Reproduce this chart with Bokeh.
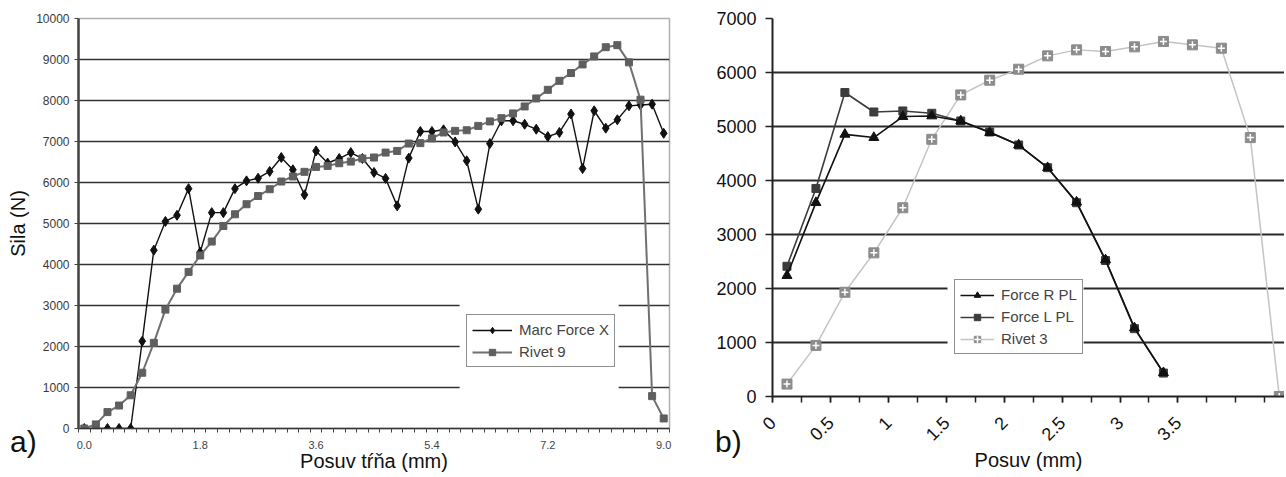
import math
from bokeh.plotting import figure
from bokeh.models import (FixedTicker, Range1d, Legend, LegendItem,
                          BoxAnnotation, Div)
from bokeh.layouts import row
from bokeh.embed import file_html
from bokeh.resources import INLINE

FONT = "Liberation Sans"

# ---------------- chart a) data ----------------
posuv_a = [0.0, 0.18, 0.36, 0.54, 0.72, 0.9, 1.08, 1.26, 1.44, 1.62,
           1.8, 1.98, 2.16, 2.34, 2.52, 2.7, 2.88, 3.06, 3.24, 3.42,
           3.6, 3.78, 3.96, 4.14, 4.32, 4.5, 4.68, 4.86, 5.04, 5.22,
           5.4, 5.58, 5.76, 5.94, 6.12, 6.3, 6.48, 6.66, 6.84, 7.02,
           7.2, 7.38, 7.56, 7.74, 7.92, 8.1, 8.28, 8.46, 8.64, 8.82, 9.0]
marc_force_x = [0, 0, 0, 0, 0, 2130, 4350, 5050, 5200, 5850,
                4300, 5265, 5265, 5850, 6040, 6105, 6270, 6610, 6310, 5700,
                6770, 6475, 6585, 6730, 6585, 6245, 6100, 5430, 6595, 7245,
                7245, 7285, 6990, 6530, 5350, 6950, 7505, 7505, 7420, 7300,
                7120, 7220, 7670, 6340, 7750, 7325, 7530, 7870, 7890, 7910, 7200]
rivet_9 = [0, 100, 400, 560, 810, 1360, 2090, 2900, 3410, 3820,
           4220, 4560, 4940, 5225, 5470, 5670, 5836, 6024, 6146, 6260,
           6380, 6405, 6470, 6510, 6585, 6610, 6730, 6770, 6950, 6960,
           7075, 7220, 7260, 7275, 7380, 7490, 7570, 7685, 7855, 8050,
           8260, 8480, 8670, 8880, 9075, 9300, 9350, 8930, 8020, 790, 245]
a_ticks = [0.0, 1.8, 3.6, 5.4, 7.2, 9.0]
a_tick_labels = ["0.0", "1.8", "3.6", "5.4", "7.2", "9.0"]
a_yticks = [0, 1000, 2000, 3000, 4000, 5000, 6000, 7000, 8000, 9000, 10000]

# ---------------- chart b) data ----------------
posuv_b_force = [0.125, 0.375, 0.625, 0.875, 1.125, 1.375, 1.625,
                 1.875, 2.125, 2.375, 2.625, 2.875, 3.125, 3.375]
force_r_pl = [2240, 3590, 4855, 4795, 5184, 5195, 5102,
              4887, 4657, 4237, 3600, 2530, 1270, 440]
force_l_pl = [2412, 3853, 5629, 5269, 5288, 5245, 5102,
              4898, 4657, 4237, 3588, 2518, 1256, 434]
posuv_b_rivet = [0.125, 0.375, 0.625, 0.875, 1.125, 1.375, 1.625, 1.875, 2.125,
                 2.375, 2.625, 2.875, 3.125, 3.375, 3.625, 3.875, 4.125, 4.375]
rivet_3 = [230, 946, 1930, 2660, 3495, 4763, 5585, 5857, 6061,
           6308, 6419, 6389, 6475, 6575, 6512, 6450, 4794, 0]
b_ticks = [0, 0.5, 1, 1.5, 2, 2.5, 3, 3.5]
b_tick_labels = ["0", "0.5", "1", "1.5", "2", "2.5", "3", "3.5"]
b_minor = [0.25 * k for k in range(18)]
b_yticks = [0, 1000, 2000, 3000, 4000, 5000, 6000, 7000]

panel_labels = ["a)", "b)"]


def no_align(p):
    try:
        p.frame_align = False
    except Exception:
        pass


# ================= figure a =================
pa = figure(width=700, height=475, x_range=Range1d(-0.09, 9.09),
            y_range=Range1d(0, 10000), output_backend="svg",
            toolbar_location=None, min_border_left=78, min_border_right=31,
            min_border_top=18, min_border_bottom=47)
no_align(pa)
pa.outline_line_color = "#b0b0b0"
pa.outline_line_width = 1.5
pa.xgrid.visible = False
pa.ygrid.grid_line_color = "#333333"
pa.ygrid.grid_line_width = 1.5

pa.yaxis.ticker = FixedTicker(ticks=a_yticks)
pa.yaxis.axis_line_color = "#444444"
pa.yaxis.axis_line_width = 2.5
pa.yaxis.major_tick_out = 4
pa.yaxis.major_tick_in = 0
pa.yaxis.minor_tick_out = 0
pa.yaxis.minor_tick_in = 0
pa.yaxis.major_tick_line_color = "#444444"
pa.yaxis.major_label_text_font = FONT
pa.yaxis.major_label_text_font_size = "12px"
pa.yaxis.major_label_text_color = "#3a3a3a"
pa.yaxis.major_label_standoff = 5
pa.yaxis.axis_label = "Sila (N)"
pa.yaxis.axis_label_text_font = FONT
pa.yaxis.axis_label_text_font_size = "20px"
pa.yaxis.axis_label_text_font_style = "normal"
pa.yaxis.axis_label_text_color = "#111111"
pa.yaxis.axis_label_standoff = 4

a_minor = [-0.09 + 0.18 * k for k in range(52)]
pa.xaxis.ticker = FixedTicker(ticks=a_ticks, minor_ticks=a_minor)
pa.xaxis.major_label_overrides = dict(zip(a_ticks, a_tick_labels))
pa.xaxis.axis_line_color = "#333333"
pa.xaxis.axis_line_width = 1.5
pa.xaxis.major_tick_out = 0
pa.xaxis.major_tick_in = 0
pa.xaxis.minor_tick_out = 4
pa.xaxis.minor_tick_in = 0
pa.xaxis.minor_tick_line_color = "#444444"
pa.xaxis.major_label_text_font = FONT
pa.xaxis.major_label_text_font_size = "11px"
pa.xaxis.major_label_text_color = "#444444"
pa.xaxis.major_label_text_line_height = 0.9
pa.xaxis.major_label_standoff = 8
pa.xaxis.axis_label = "Posuv tŕňa (mm)"
pa.xaxis.axis_label_text_font = FONT
pa.xaxis.axis_label_text_font_size = "20px"
pa.xaxis.axis_label_text_font_style = "normal"
pa.xaxis.axis_label_text_color = "#111111"
pa.xaxis.axis_label_text_line_height = 0.9
pa.xaxis.axis_label_standoff = -2

la1 = pa.line(posuv_a, marc_force_x, line_color="#111111", line_width=1.4)
ma1 = pa.scatter(posuv_a, marc_force_x, marker="diamond", size=10,
                 fill_color="#111111", line_color="#111111")
la2 = pa.line(posuv_a, rivet_9, line_color="#707070", line_width=2)
ma2 = pa.scatter(posuv_a, rivet_9, marker="square", size=7,
                 fill_color="#5f5f5f", line_color="#5f5f5f")

pa.add_layout(BoxAnnotation(left=5.83, right=8.30, bottom=757, top=3250,
                            fill_color="white", fill_alpha=1.0, line_alpha=0))
leg_a = Legend(items=[LegendItem(label="Marc Force X", renderers=[la1, ma1]),
                      LegendItem(label="Rivet 9", renderers=[la2, ma2])],
               location=(388, 61), margin=0, padding=5, spacing=3,
               label_height=19, glyph_height=16, glyph_width=40, label_standoff=7,
               label_text_font=FONT, label_text_font_size="15px",
               border_line_color="#222222", border_line_width=1.5,
               background_fill_color="white", background_fill_alpha=1.0)
pa.add_layout(leg_a)

# ================= figure b =================
pb = figure(width=584, height=477, x_range=Range1d(0, 4.42),
            y_range=Range1d(0, 7000), output_backend="svg",
            toolbar_location=None, min_border_left=72, min_border_right=0,
            min_border_top=18, min_border_bottom=81)
no_align(pb)
pb.outline_line_color = None
pb.xgrid.visible = False
pb.ygrid.grid_line_color = "#2a2a2a"
pb.ygrid.grid_line_width = 2

pb.yaxis.ticker = FixedTicker(ticks=b_yticks)
pb.yaxis.axis_line_color = "#222222"
pb.yaxis.axis_line_width = 2
pb.yaxis.major_tick_out = 7
pb.yaxis.major_tick_in = 0
pb.yaxis.minor_tick_out = 0
pb.yaxis.minor_tick_in = 0
pb.yaxis.major_tick_line_width = 1.5
pb.yaxis.major_tick_line_color = "#222222"
pb.yaxis.major_label_text_font = FONT
pb.yaxis.major_label_text_font_size = "18px"
pb.yaxis.major_label_text_color = "#111111"
pb.yaxis.major_label_standoff = 9

pb.xaxis.ticker = FixedTicker(ticks=b_ticks, minor_ticks=b_minor)
pb.xaxis.major_label_overrides = dict(zip(b_ticks, b_tick_labels))
pb.xaxis.axis_line_color = "#222222"
pb.xaxis.axis_line_width = 2
pb.xaxis.major_tick_out = 6
pb.xaxis.major_tick_in = 0
pb.xaxis.minor_tick_out = 6
pb.xaxis.minor_tick_in = 0
pb.xaxis.major_tick_line_width = 1.5
pb.xaxis.minor_tick_line_width = 1.5
pb.xaxis.major_tick_line_color = "#222222"
pb.xaxis.minor_tick_line_color = "#222222"
pb.xaxis.major_label_orientation = math.pi / 4
pb.xaxis.major_label_text_font = FONT
pb.xaxis.major_label_text_font_size = "18px"
pb.xaxis.major_label_text_color = "#111111"
pb.xaxis.major_label_text_line_height = 0.9
pb.xaxis.major_label_standoff = 17
pb.xaxis.axis_label = "Posuv (mm)"
pb.xaxis.axis_label_text_font = FONT
pb.xaxis.axis_label_text_font_size = "20px"
pb.xaxis.axis_label_text_font_style = "normal"
pb.xaxis.axis_label_text_color = "#111111"
pb.xaxis.axis_label_text_line_height = 0.9
pb.xaxis.axis_label_standoff = 0

lr3 = pb.line(posuv_b_rivet, rivet_3, line_color="#c4c4c4", line_width=1.5)
mr3a = pb.scatter(posuv_b_rivet, rivet_3, marker="square", size=10,
                  fill_color="#8c8c8c", line_color="#8c8c8c")
mr3b = pb.scatter(posuv_b_rivet, rivet_3, marker="cross", size=7,
                  line_color="white", line_width=1.5)
llp = pb.line(posuv_b_force, force_l_pl, line_color="#3c3c3c", line_width=1.6)
mlp = pb.scatter(posuv_b_force, force_l_pl, marker="square", size=8,
                 fill_color="#3c3c3c", line_color="#3c3c3c")
lrp = pb.line(posuv_b_force, force_r_pl, line_color="#111111", line_width=1.6)
mrp = pb.scatter(posuv_b_force, force_r_pl, marker="triangle", size=10,
                 fill_color="#111111", line_color="#111111")

pb.add_layout(BoxAnnotation(left=1.511, right=2.686, bottom=800, top=2200,
                            fill_color="white", fill_alpha=1.0, line_alpha=0))
leg_b = Legend(items=[LegendItem(label="Force R PL", renderers=[lrp, mrp]),
                      LegendItem(label="Force L PL", renderers=[llp, mlp]),
                      LegendItem(label="Rivet 3", renderers=[lr3, mr3a, mr3b])],
               location=(182, 42), margin=0, padding=5, spacing=3,
               label_height=19, glyph_height=16, glyph_width=34, label_standoff=7,
               label_text_font=FONT, label_text_font_size="15px",
               border_line_color="#222222", border_line_width=1.5,
               background_fill_color="white", background_fill_alpha=1.0)
pb.add_layout(leg_b)


def panel_div(text, left):
    return Div(text=text, width=44, height=36,
               styles={"position": "absolute", "left": f"{left}px", "top": "425px",
                       "font-family": FONT, "font-size": "30px",
                       "line-height": "34px", "color": "#111111",
                       "margin": "0", "white-space": "nowrap"})


div_a = panel_div(panel_labels[0], 10)
div_b = panel_div(panel_labels[1], 715)

layout = row(pa, pb, div_a, div_b)
open("out.html", "w").write(file_html(layout, INLINE))
